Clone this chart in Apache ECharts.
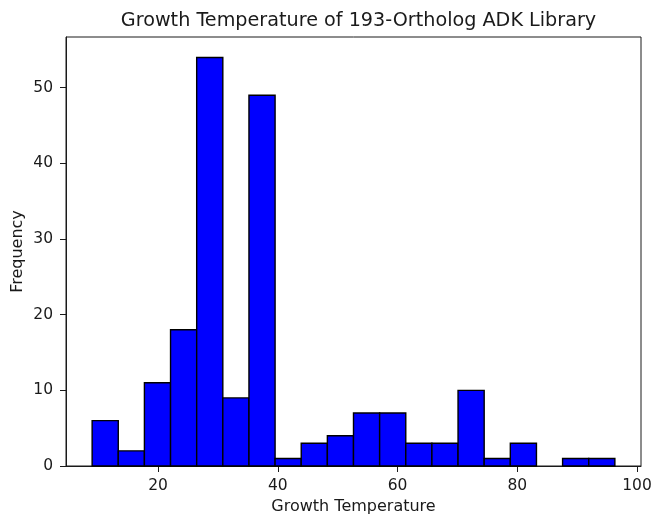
<!DOCTYPE html>
<html>
<head>
<meta charset="utf-8">
<script src="https://cdn.jsdelivr.net/npm/echarts@6/dist/echarts.min.js"></script>
<style>
  html, body { margin: 0; padding: 0; background: #fff; }
  #chart { width: 655px; height: 519px; }
</style>
</head>
<body>
<div id="chart"></div>
<script>
// Histogram bin edges (°C) and counts per bin
const binEdges = [9.0, 13.365, 17.73, 22.095, 26.46, 30.825, 35.19, 39.555, 43.92, 48.285,
                  52.65, 57.015, 61.38, 65.745, 70.11, 74.475, 78.84, 83.205, 87.57, 91.935, 96.3];
const counts = [6, 2, 11, 18, 54, 9, 49, 1, 3, 4, 7, 7, 3, 3, 10, 1, 3, 0, 1, 1];
const xTicks = [20, 40, 60, 80, 100];
const yTicks = [0, 10, 20, 30, 40, 50];

const bars = counts.map((c, i) => [binEdges[i], binEdges[i + 1], c]);

const FONT = 'DejaVu Sans';
const TICK_FS = 15.5;
const NAME_FS = 16;
const INK = '#1a1a1a';
const chart = echarts.init(document.getElementById('chart'), null, { renderer: 'canvas' });

chart.setOption({
  animation: false,
  backgroundColor: '#fff',
  title: {
    text: 'Growth Temperature of 193-Ortholog ADK Library',
    left: 353.5,
    textAlign: 'center',
    top: 7,
    textStyle: { fontFamily: FONT, fontSize: 19.2, fontWeight: 'normal', color: INK }
  },
  grid: {
    left: 66, right: 14, top: 37, bottom: 53,
    outerBoundsMode: 'none',
    containLabel: false,
    show: true, borderColor: INK, borderWidth: 1, backgroundColor: 'transparent'
  },
  xAxis: {
    type: 'value',
    min: 4.635, max: 100.665,
    name: 'Growth Temperature',
    nameLocation: 'middle',
    nameGap: 33,
    nameMoveOverlap: false,
    nameTextStyle: { fontFamily: FONT, fontSize: NAME_FS, color: INK },
    splitLine: { show: false },
    axisLine: { show: true, onZero: false, lineStyle: { color: INK, width: 1 } },
    axisTick: { show: true, customValues: xTicks, length: 6, inside: false, lineStyle: { color: INK, width: 1 } },
    axisLabel: { customValues: xTicks, margin: 12, fontFamily: FONT, fontSize: TICK_FS, color: INK }
  },
  yAxis: {
    type: 'value',
    min: 0, max: 56.7,
    name: 'Frequency',
    nameLocation: 'middle',
    nameGap: 40,
    nameMoveOverlap: false,
    nameRotate: 90,
    nameTextStyle: { fontFamily: FONT, fontSize: NAME_FS, color: INK },
    splitLine: { show: false },
    axisLine: { show: true, lineStyle: { color: INK, width: 1 } },
    axisTick: { show: true, customValues: yTicks, length: 6, inside: false, lineStyle: { color: INK, width: 1 } },
    axisLabel: { customValues: yTicks, margin: 13, fontFamily: FONT, fontSize: TICK_FS, color: INK }
  },
  series: [{
    type: 'custom',
    data: bars,
    encode: { x: [0, 1], y: 2 },
    renderItem: function (params, api) {
      const h = api.value(2);
      if (h <= 0) return null;
      const p0 = api.coord([api.value(0), 0]);
      const p1 = api.coord([api.value(1), h]);
      return {
        type: 'rect',
        shape: { x: p0[0], y: p1[1], width: p1[0] - p0[0], height: p0[1] - p1[1] },
        style: { fill: '#0000ff', stroke: '#000', lineWidth: 1.4 }
      };
    }
  }]
});
</script>
</body>
</html>
